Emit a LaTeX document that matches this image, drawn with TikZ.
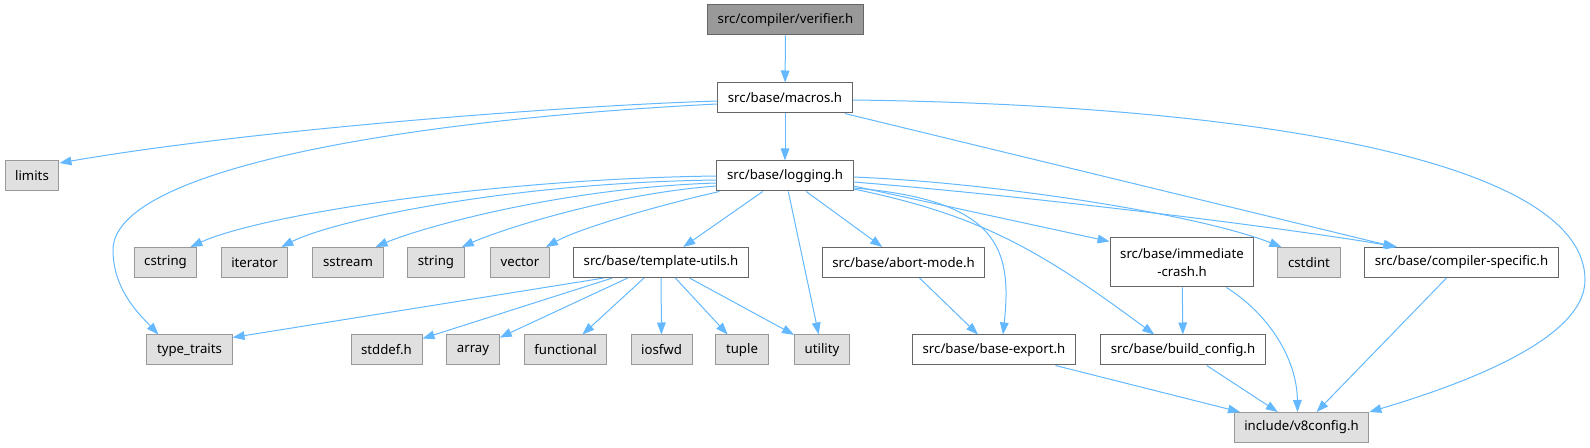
\documentclass[tikz,border=0pt]{standalone}
\usepackage{fontspec}
\setmainfont{Noto Sans}
\usetikzlibrary{arrows.meta, calc}
\definecolor{edgeblue}{HTML}{63B8FF}
\definecolor{boxline}{HTML}{666666}
\definecolor{leafline}{HTML}{999999}
\definecolor{leaffill}{HTML}{E0E0E0}
\definecolor{rootfill}{HTML}{999999}

\begin{document}
\begin{tikzpicture}[
    x=0.75pt, y=-0.75pt,
    header/.style = {rectangle, draw=boxline, fill=white, line width=0.75pt,
                     minimum height=22.5pt, inner xsep=7.6pt, inner ysep=2pt,
                     font=\fontsize{9.9}{14}\selectfont, align=center},
    stdlib/.style = {header, draw=leafline, fill=leaffill},
    focus/.style  = {header, fill=rootfill},
    arr/.style    = {-{Triangle[length=9pt, width=6.5pt]}, edgeblue, line width=0.75pt},
]

\useasboundingbox (0,0) rectangle (1590,448);

%% ---- Top: the file and its first include ----
\node[focus]  (verifier) at (785.5, 20) {src/compiler/verifier.h};
\node[header] (macros)   at (785, 98)   {src/base/macros.h};
\node[stdlib] (limits)   at (32, 175.5) {limits};
\node[header] (logging)  at (785, 176)  {src/base/logging.h};

%% ---- Row 3 ----
\node[stdlib] (cstring)  at (165.5, 262.5) {cstring};
\node[stdlib] (iterator) at (254.5, 262.5) {iterator};
\node[stdlib] (sstream)  at (348, 262.5)   {sstream};
\node[stdlib] (string)   at (436, 262.5)   {string};
\node[stdlib] (vector)   at (520, 262.5)   {vector};
\node[header] (tutils)   at (661, 262.5)   {src/base/template-utils.h};
\node[header] (abortmode) at (903.5, 262.5) {src/base/abort-mode.h};
\node[header, minimum height=36.75pt] (immcrash) at (1182, 262.5)
    {src/base/immediate\\-crash.h};
\node[stdlib] (cstdint)  at (1309, 262.5)  {cstdint};
\node[header] (compspec) at (1461.5, 262.5) {src/base/compiler-specific.h};

%% ---- Row 4 ----
\node[stdlib] (ttraits)    at (189.5, 350) {type\_traits};
\node[stdlib] (stddef)     at (386.5, 350) {stddef.h};
\node[stdlib] (array)      at (473, 350)   {array};
\node[stdlib] (functional) at (565.5, 350) {functional};
\node[stdlib] (iosfwd)     at (661.5, 350) {iosfwd};
\node[stdlib] (tuple)      at (742, 350)   {tuple};
\node[stdlib] (utility)    at (822, 350)   {utility};
\node[header] (baseexport) at (994, 350)   {src/base/base-export.h};
\node[header] (buildconfig) at (1183, 350) {src/base/build\_config.h};

%% ---- Bottom ----
\node[stdlib] (v8config) at (1301.5, 427.5) {include/v8config.h};

%% ---- Arrows from verifier.h and macros.h ----
\draw[arr] (verifier) -- (macros);
\draw[arr] (macros) -- (logging);
\draw[arr] ($(macros.west)+(0,3)$) .. controls (560,106) and (250,130)
    .. ($(limits.north east)+(0,3)$);
\draw[arr] ($(macros.west)+(0,6)$) .. controls (400,120) and (113,170) .. (113,250)
    .. controls (113,290) and (140,315) .. ($(ttraits.north west)+(12,0)$);
\draw[arr] ($(macros.south east)+(-8,0)$) -- ($(compspec.north west)+(31,0)$);
\draw[arr] ($(macros.east)+(0,2)$) .. controls (1250,105) and (1585,160) .. (1585,280)
    .. controls (1585,340) and (1460,385) .. (v8config.north east);

%% ---- Arrows from logging.h ----
\draw[arr] (logging.west) .. controls (490,179) and (260,215)
    .. ($(cstring.north east)+(-7,0)$);
\draw[arr] ($(logging.west)+(0,4)$) .. controls (500,183) and (330,222)
    .. ($(iterator.north east)+(-7,0)$);
\draw[arr] ($(logging.west)+(0,7)$) .. controls (560,188) and (420,228)
    .. ($(sstream.north east)+(-8,0)$);
\draw[arr] ($(logging.west)+(0,10)$) .. controls (610,194) and (500,230)
    .. ($(string.north east)+(-3,0)$);
\draw[arr] ($(logging.south west)+(3,0)$) .. controls (660,205) and (580,228)
    .. ($(vector.north east)+(-4,0)$);
\draw[arr] (logging) -- (tutils);
\draw[arr] (logging) -- (utility);
\draw[arr] (logging) -- (abortmode);
\draw[arr] ($(logging.east)+(0,12)$) .. controls (1000,200) and (1012,250)
    .. ($(baseexport.north)+(9,0)$);
\draw[arr] ($(logging.east)+(0,13)$) .. controls (980,215) and (1040,250)
    .. ($(buildconfig.north west)+(54,0)$);
\draw[arr] ($(logging.east)+(0,10)$) -- ($(immcrash.west)+(0,-21)$);
\draw[arr] ($(logging.east)+(0,1)$) .. controls (1000,183) and (1200,215)
    .. ($(cstdint.north west)+(4,0)$);
\draw[arr] ($(logging.east)+(0,6)$) .. controls (1050,198) and (1300,230)
    .. ($(compspec.north west)+(33,0)$);

%% ---- Arrows from template-utils.h ----
\draw[arr] ($(tutils.south west)+(31,0)$) -- ($(ttraits.north east)+(0,3)$);
\draw[arr] (tutils) -- (stddef);
\draw[arr] (tutils) -- (array);
\draw[arr] (tutils) -- (functional);
\draw[arr] (tutils) -- (iosfwd);
\draw[arr] (tutils) -- (tuple);
\draw[arr] (tutils) -- (utility);

%% ---- Arrows into base-export.h, build_config.h, v8config.h ----
\draw[arr] (abortmode) -- (baseexport);
\draw[arr] (immcrash) -- (buildconfig);
\draw[arr] ($(immcrash.south east)+(-28,0)$) .. controls (1270,315) and (1297,360)
    .. ($(v8config.north)+(-4,0)$);
\draw[arr] (baseexport) -- (v8config);
\draw[arr] (buildconfig) -- (v8config);
\draw[arr] (compspec) -- (v8config);

\end{tikzpicture}
\end{document}
